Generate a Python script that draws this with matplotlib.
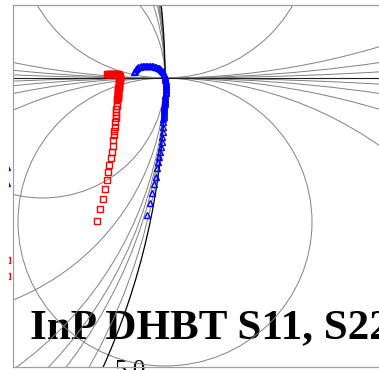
import matplotlib
matplotlib.use("Agg")
import matplotlib.pyplot as plt
from matplotlib.patches import Circle, Rectangle

# ---------------- data (reflection coefficients, Gamma = re + j*im) ----------------
r_values = [0.2, 0.5, 0.7, 1.0, 2.0, 5.0]          # constant-resistance circles
x_values = [0.2, 0.5, 1.0, 5.0, -0.2, -0.5, -1.0, -2.0, -5.0]  # constant-reactance circles

s11_points = [
    (0.9211, 0.0056), (0.9224, 0.0056), (0.9238, 0.0056), (0.9252, 0.0056), (0.9265, 0.0056),
    (0.9279, 0.0056), (0.9293, 0.0056), (0.9306, 0.0056), (0.9320, 0.0056), (0.9333, 0.0056),
    (0.9347, 0.0056), (0.9361, 0.0056), (0.9374, 0.0042), (0.9388, 0.0028), (0.9388, 0.0014),
    (0.9388, 0.0000), (0.9388, -0.0014), (0.9388, -0.0028), (0.9374, -0.0042), (0.9374, -0.0056),
    (0.9374, -0.0069), (0.9374, -0.0083), (0.9374, -0.0097), (0.9374, -0.0111), (0.9374, -0.0125),
    (0.9374, -0.0139), (0.9361, -0.0153), (0.9361, -0.0167), (0.9361, -0.0181), (0.9361, -0.0194),
    (0.9361, -0.0208), (0.9361, -0.0222), (0.9361, -0.0236), (0.9361, -0.0250), (0.9361, -0.0264),
    (0.9361, -0.0278), (0.9347, -0.0292), (0.9347, -0.0306), (0.9347, -0.0347), (0.9347, -0.0389),
    (0.9333, -0.0431), (0.9333, -0.0472), (0.9333, -0.0514), (0.9333, -0.0556), (0.9320, -0.0611),
    (0.9320, -0.0681), (0.9306, -0.0736), (0.9306, -0.0792), (0.9293, -0.0861), (0.9293, -0.0944),
    (0.9279, -0.1028), (0.9265, -0.1111), (0.9238, -0.1208), (0.9224, -0.1306), (0.9211, -0.1417),
    (0.9184, -0.1542), (0.9156, -0.1681), (0.9116, -0.1819), (0.9075, -0.1986),
    (0.7850, -0.2528), (0.7850, -0.2750),
]

s22_points = [
    (0.9578, 0.0083), (0.9592, 0.0097), (0.9605, 0.0125), (0.9619, 0.0139), (0.9633, 0.0153),
    (0.9660, 0.0153), (0.9673, 0.0167), (0.9701, 0.0167), (0.9714, 0.0167), (0.9741, 0.0167),
    (0.9755, 0.0167), (0.9782, 0.0167), (0.9796, 0.0167), (0.9823, 0.0167), (0.9837, 0.0167),
    (0.9864, 0.0153), (0.9878, 0.0153), (0.9905, 0.0139), (0.9918, 0.0139), (0.9932, 0.0125),
    (0.9946, 0.0111), (0.9959, 0.0097), (0.9973, 0.0083), (0.9986, 0.0056), (0.9986, 0.0042),
    (1.0000, 0.0014), (1.0000, 0.0000), (1.0000, -0.0028), (1.0014, -0.0042), (1.0014, -0.0069),
    (1.0014, -0.0083), (1.0014, -0.0111), (1.0014, -0.0125), (1.0014, -0.0153), (1.0014, -0.0167),
    (1.0014, -0.0194), (1.0014, -0.0208), (1.0000, -0.0236), (1.0000, -0.0250), (1.0000, -0.0278),
    (1.0000, -0.0292), (1.0000, -0.0319), (1.0000, -0.0333), (1.0000, -0.0361), (0.9986, -0.0375),
    (0.9986, -0.0403), (0.9986, -0.0417), (0.9986, -0.0444), (0.9986, -0.0458), (0.9986, -0.0486),
    (0.9986, -0.0514), (0.9986, -0.0542), (0.9973, -0.0569), (0.9973, -0.0611), (0.9973, -0.0681),
    (0.9973, -0.0750), (0.9959, -0.0819), (0.9959, -0.0889), (0.9946, -0.0958), (0.9932, -0.1028),
    (0.9918, -0.1097), (0.9905, -0.1167), (0.9891, -0.1250), (0.9878, -0.1375), (0.9850, -0.1472),
    (0.9823, -0.1597), (0.9796, -0.1736), (0.9755, -0.1903),
    (0.7850, -0.1236), (0.7850, -0.1458),
]

title_text = "InP DHBT S11, S22"
grid_label = "5.0"

s11_re = [p[0] for p in s11_points]
s11_im = [p[1] for p in s11_points]
s22_re = [p[0] for p in s22_points]
s22_im = [p[1] for p in s22_points]

# ---------------- layout ----------------
W, H = 379, 370
fig = plt.figure(figsize=(W / 100, H / 100), dpi=100)
px_left, px_right, px_top, px_bot = 13, 450, 5, 367
ax = fig.add_axes([px_left / W, (H - px_bot) / H, (px_right - px_left) / W, (px_bot - px_top) / H])
ox, oy = 165, 78      # pixel position of Gamma = 1
sx, sy = 735, 720     # pixels per unit of Gamma
ax.set_xlim(1 + (px_left - ox) / sx, 1 + (px_right - ox) / sx)
ax.set_ylim((oy - px_bot) / sy, (oy - px_top) / sy)
ax.set_xticks([])
ax.set_yticks([])
for side, sp in ax.spines.items():
    sp.set_color("#a0a0a0")
    sp.set_linewidth(0.9)
ax.spines["right"].set_visible(False)

grid_kw = dict(fill=False, edgecolor="#808080", linewidth=0.7, zorder=2)

# unit circle (r = 0)
ax.add_patch(Circle((0, 0), 1.0, fill=False, edgecolor="black", linewidth=0.9, zorder=2.2))
# constant resistance circles
for r in r_values:
    ax.add_patch(Circle((r / (1 + r), 0), 1 / (1 + r), **grid_kw))
# constant reactance circles
for x in x_values:
    ax.add_patch(Circle((1, 1 / x), 1 / abs(x), **grid_kw))
# real axis
ax.axhline(0, color="#202020", linewidth=0.8, zorder=2.1)

# ---------------- data ----------------
clip_rect = Rectangle((9 / W, 0), 1, 1, transform=fig.transFigure)
l1, = ax.plot(s11_re, s11_im, linestyle="none", marker="s", markersize=4.8,
              markerfacecolor="none", markeredgecolor="#ff0000", markeredgewidth=1.0, zorder=3)
l2, = ax.plot(s22_re, s22_im, linestyle="none", marker="^", markersize=5.0,
              markerfacecolor="none", markeredgecolor="#0000ff", markeredgewidth=1.0, zorder=3)
for ln in (l1, l2):
    ln.set_clip_path(clip_rect)

# ---------------- text ----------------
ax.text(30 / W, (H - 338) / H, title_text, transform=fig.transFigure,
        fontfamily="Liberation Serif", fontweight="bold", fontsize=31,
        ha="left", va="baseline", zorder=1)
ax.text(115 / W, (H - 377) / H, grid_label, transform=fig.transFigure,
        fontfamily="Liberation Serif", fontsize=18, ha="left", va="baseline", zorder=1)

fig.savefig("out.png", dpi=100)
